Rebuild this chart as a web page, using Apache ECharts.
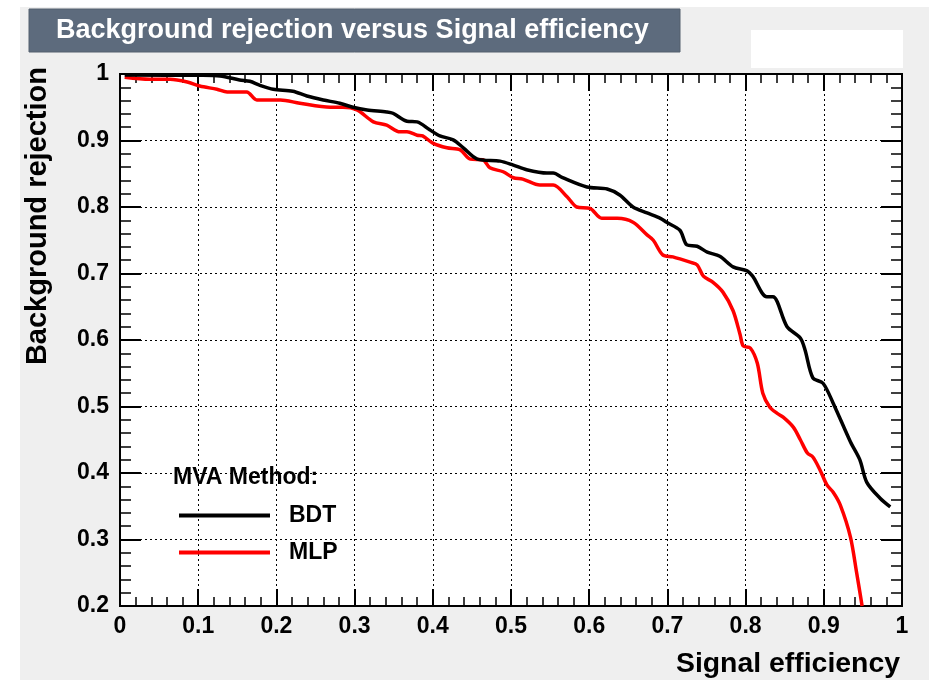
<!DOCTYPE html>
<html>
<head>
<meta charset="utf-8">
<script src="https://cdn.jsdelivr.net/npm/echarts@6/dist/echarts.min.js"></script>
<style>
html,body{margin:0;padding:0;background:#fff;}
#c{width:929px;height:680px;}
</style>
</head>
<body>
<div id="c"></div>
<script>
// ---- data ----
const titleText = 'Background rejection versus Signal efficiency';
const xTitle = 'Signal efficiency';
const yTitle = 'Background rejection';
const legendHeader = 'MVA Method:';
const seriesNames = ['BDT', 'MLP'];

const bdtX = [0.006,0.102,0.128,0.153,0.166,0.179,0.196,0.221,0.239,0.260,0.281,0.298,0.316,0.341,0.349,0.367,0.380,0.396,0.409,0.426,0.439,0.457,0.486,0.503,0.520,0.546,0.554,0.566,0.597,0.623,0.639,0.656,0.674,0.691,0.699,0.716,0.725,0.738,0.751,0.767,0.784,0.802,0.809,0.827,0.835,0.853,0.870,0.876,0.886,0.899,0.912,0.934,0.946,0.955,0.972,0.985];
const bdtY = [0.9985,0.998,0.997,0.991,0.989,0.983,0.977,0.974,0.967,0.961,0.956,0.950,0.946,0.943,0.941,0.929,0.928,0.916,0.907,0.901,0.889,0.872,0.869,0.863,0.856,0.851,0.851,0.844,0.830,0.827,0.818,0.800,0.791,0.783,0.777,0.765,0.743,0.741,0.732,0.726,0.710,0.704,0.696,0.665,0.665,0.620,0.603,0.585,0.543,0.535,0.505,0.447,0.420,0.386,0.362,0.349];

const mlpX = [0.006,0.038,0.064,0.086,0.102,0.124,0.137,0.162,0.175,0.205,0.230,0.269,0.285,0.303,0.324,0.341,0.358,0.367,0.380,0.387,0.400,0.418,0.435,0.448,0.464,0.473,0.490,0.503,0.515,0.537,0.554,0.572,0.584,0.601,0.616,0.636,0.656,0.674,0.682,0.694,0.707,0.729,0.738,0.746,0.758,0.771,0.784,0.793,0.797,0.806,0.815,0.822,0.831,0.840,0.848,0.861,0.870,0.879,0.886,0.895,0.904,0.912,0.921,0.934,0.942,0.949];
const mlpY = [0.995,0.992,0.992,0.988,0.982,0.977,0.973,0.973,0.961,0.961,0.956,0.950,0.950,0.946,0.928,0.923,0.913,0.913,0.908,0.907,0.896,0.889,0.886,0.872,0.871,0.859,0.853,0.844,0.842,0.833,0.833,0.815,0.800,0.798,0.783,0.783,0.777,0.758,0.750,0.728,0.725,0.717,0.713,0.696,0.687,0.672,0.644,0.608,0.591,0.588,0.565,0.520,0.499,0.490,0.484,0.469,0.450,0.430,0.424,0.405,0.382,0.371,0.352,0.304,0.250,0.200];

const xMin = 0, xMax = 1, xStep = 0.1;
const yMin = 0.2, yMax = 1, yStep = 0.1;

// ---- chart ----
const FONT = '"Liberation Sans", Arial, Helvetica, sans-serif';
const pairs = (xs, ys) => xs.map((x, i) => [x, ys[i]]);
const chart = echarts.init(document.getElementById('c'), null, {renderer: 'canvas'});

const tickCommon = {
  axisLine: {show: true, onZero: false, lineStyle: {color: '#000', width: 2}},
  splitLine: {show: false}
};

const option = {
  backgroundColor: '#efefef',
  animation: false,
  grid: {left: 120, top: 74, width: 782, height: 532, show: true, backgroundColor: '#ffffff', borderColor: '#000', borderWidth: 2},
  xAxis: [
    Object.assign({}, tickCommon, {
      type: 'value', min: xMin, max: xMax, interval: xStep, position: 'bottom',
      axisTick: {show: true, inside: true, length: 17, lineStyle: {color: '#000', width: 2}},
      minorTick: {show: true, splitNumber: 5, length: 9, lineStyle: {color: '#000', width: 1.5}},
      axisLabel: {show: true, margin: 9, color: '#000', fontSize: 23, fontWeight: 'bold', fontFamily: FONT},
      splitLine: {show: true, lineStyle: {color: '#000', width: 1, type: [2, 3]}}
    }),
    Object.assign({}, tickCommon, {
      type: 'value', min: xMin, max: xMax, interval: xStep, position: 'top',
      axisTick: {show: true, inside: true, length: 17, lineStyle: {color: '#000', width: 2}},
      minorTick: {show: true, splitNumber: 5, length: 9, lineStyle: {color: '#000', width: 1.5}},
      axisLabel: {show: false}
    })
  ],
  yAxis: [
    Object.assign({}, tickCommon, {
      type: 'value', min: yMin, max: yMax, interval: yStep, position: 'left',
      axisTick: {show: true, inside: true, length: 21, lineStyle: {color: '#000', width: 2}},
      minorTick: {show: true, splitNumber: 5, length: 11, lineStyle: {color: '#000', width: 1.5}},
      axisLabel: {show: true, margin: 11, color: '#000', fontSize: 23, fontWeight: 'bold', fontFamily: FONT},
      splitLine: {show: true, lineStyle: {color: '#000', width: 1, type: [2, 3]}}
    }),
    Object.assign({}, tickCommon, {
      type: 'value', min: yMin, max: yMax, interval: yStep, position: 'right',
      axisTick: {show: true, inside: true, length: 21, lineStyle: {color: '#000', width: 2}},
      minorTick: {show: true, splitNumber: 5, length: 11, lineStyle: {color: '#000', width: 1.5}},
      axisLabel: {show: false}
    })
  ],
  legend: {
    orient: 'vertical', left: 179, top: 504, itemWidth: 91, itemHeight: 4, icon: 'rect',
    itemGap: 14, padding: 0,
    textStyle: {fontSize: 23, fontWeight: 'bold', color: '#000', fontFamily: FONT, padding: [0, 0, 0, 14], lineHeight: 23},
    data: seriesNames
  },
  series: [
    {name: seriesNames[0], type: 'line', data: pairs(bdtX, bdtY), showSymbol: false, smooth: 0.3,
     lineStyle: {color: '#000000', width: 3.5}, itemStyle: {color: '#000000'}, clip: true, z: 3},
    {name: seriesNames[1], type: 'line', data: pairs(mlpX, mlpY), showSymbol: false, smooth: 0.3,
     lineStyle: {color: '#ff0000', width: 3.5}, itemStyle: {color: '#ff0000'}, clip: true, z: 2}
  ],
  graphic: [
    {type: 'rect', shape: {x: 0, y: 0, width: 929, height: 7}, style: {fill: '#ffffff'}, silent: true},
    {type: 'rect', shape: {x: 0, y: 0, width: 20, height: 680}, style: {fill: '#ffffff'}, silent: true},
    {type: 'rect', shape: {x: 29, y: 9, width: 651, height: 43}, style: {fill: '#5d6b7d', stroke: '#54606f', lineWidth: 1}, silent: true},
    {type: 'text', x: 56, y: 31, style: {text: titleText, fill: '#ffffff', font: 'bold 27px ' + FONT, textAlign: 'left', textVerticalAlign: 'middle'}, silent: true},
    {type: 'rect', shape: {x: 751, y: 30, width: 152, height: 38}, style: {fill: '#ffffff'}, silent: true},
    {type: 'text', x: 900, y: 664, style: {text: xTitle, fill: '#000', font: 'bold 28.4px ' + FONT, textAlign: 'right', textVerticalAlign: 'middle'}, silent: true},
    {type: 'text', x: 38, y: 67, rotation: Math.PI / 2, style: {text: yTitle, fill: '#000', font: 'bold 29px ' + FONT, textAlign: 'right', textVerticalAlign: 'middle'}, silent: true},
    {type: 'text', x: 173, y: 478, style: {text: legendHeader, fill: '#000', font: 'bold 23px ' + FONT, textAlign: 'left', textVerticalAlign: 'middle'}, silent: true}
  ]
};
chart.setOption(option);
</script>
</body>
</html>
